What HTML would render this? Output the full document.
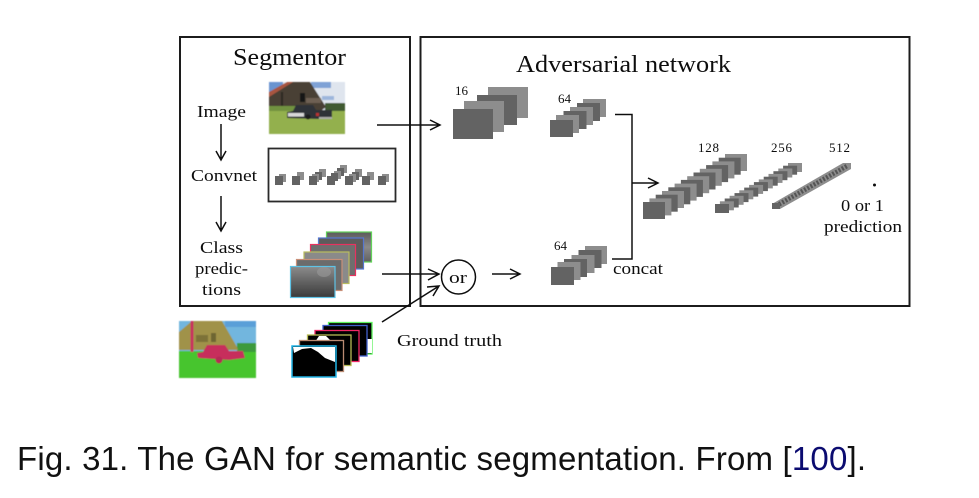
<!DOCTYPE html>
<html><head><meta charset="utf-8"><style>
html,body{margin:0;padding:0;background:#fff;width:979px;height:498px;overflow:hidden}
svg{display:block}
.s{font-family:"Liberation Serif",serif;fill:#111;font-size:17px}
.n{font-family:"Liberation Serif",serif;fill:#111;font-size:13px}
.h{font-family:"Liberation Serif",serif;fill:#111;font-size:24px}
.c{font-family:"Liberation Sans",sans-serif;fill:#111;font-size:33px}
.d{fill:#636363}.l{fill:#8d8d8d}
</style></head><body>
<svg width="979" height="498" viewBox="0 0 979 498" xmlns="http://www.w3.org/2000/svg">
<defs>
<filter id="b" x="-5%" y="-5%" width="110%" height="110%"><feGaussianBlur stdDeviation="0.35"/></filter>
<filter id="p" x="-5%" y="-5%" width="110%" height="110%"><feGaussianBlur stdDeviation="0.6"/></filter>
<linearGradient id="g2" x1="0" y1="0" x2="0" y2="1"><stop offset="0" stop-color="#8c8c8c"/><stop offset=".45" stop-color="#666"/><stop offset="1" stop-color="#3a3a3a"/></linearGradient>
<linearGradient id="g3" x1="0" y1="0" x2="0" y2="1"><stop offset="0" stop-color="#5a5a5a"/><stop offset=".5" stop-color="#8a8a8a"/><stop offset="1" stop-color="#606060"/></linearGradient>
</defs>
<rect width="979" height="498" fill="#fff"/>
<g filter="url(#b)">
<!-- boxes -->
<rect x="180" y="37" width="230" height="269" fill="none" stroke="#1c1c1c" stroke-width="2"/>
<rect x="420.500" y="37" width="489" height="269" fill="none" stroke="#1c1c1c" stroke-width="2"/>
<rect x="268.500" y="148.500" width="127" height="53" fill="none" stroke="#2a2a2a" stroke-width="1.800"/>

<!-- convnet cubes -->
<g>
<rect class="l" x="279" y="174" width="7" height="8"/><rect class="d" x="275" y="176" width="8" height="9"/>
<rect class="l" x="297" y="172" width="7" height="8"/><rect class="d" x="292" y="176" width="8" height="9"/>
<rect class="l" x="319" y="169" width="7" height="8"/><rect class="d" x="315" y="172" width="7" height="8"/><rect class="l" x="312" y="174" width="7" height="8"/><rect class="d" x="309" y="176" width="8" height="9"/>
<rect class="l" x="340" y="165" width="7" height="8"/><rect class="d" x="337" y="168" width="7" height="8"/><rect class="l" x="334" y="171" width="7" height="8"/><rect class="d" x="331" y="173" width="7" height="8"/><rect class="d" x="327" y="176" width="8" height="9"/>
<rect class="l" x="355" y="169" width="7" height="8"/><rect class="d" x="352" y="172" width="7" height="8"/><rect class="l" x="349" y="174" width="7" height="8"/><rect class="d" x="345" y="176" width="8" height="9"/>
<rect class="l" x="367" y="172" width="7" height="8"/><rect class="d" x="362" y="176" width="8" height="9"/>
<rect class="l" x="382" y="174" width="7" height="8"/><rect class="d" x="378" y="176" width="8" height="9"/>
</g>

<!-- stack 16 -->
<rect class="l" x="488" y="87" width="40" height="31"/>
<rect class="d" x="477" y="95" width="40" height="30"/>
<rect class="l" x="464" y="101" width="40" height="31"/>
<rect class="d" x="453" y="109" width="40" height="30"/>

<!-- stack 64 top -->
<rect class="l" x="583" y="99" width="23" height="18"/>
<rect class="d" x="577" y="103" width="23" height="18"/>
<rect class="l" x="570" y="107" width="23" height="18"/>
<rect class="d" x="563.500" y="111" width="23" height="18"/>
<rect class="l" x="556" y="115" width="23" height="18"/>
<rect class="d" x="550" y="120" width="23" height="17"/>

<!-- stack 64 bottom -->
<rect class="l" x="585" y="246" width="22" height="18"/>
<rect class="d" x="578.500" y="250" width="23" height="18"/>
<rect class="l" x="571.500" y="255" width="23" height="18"/>
<rect class="d" x="564" y="259" width="23" height="18"/>
<rect class="l" x="557.500" y="262" width="23" height="18"/>
<rect class="d" x="551" y="267" width="23" height="18"/>

<!-- stack 128 -->
<g>
<rect class="l" x="725" y="154" width="22" height="17"/>
<rect class="d" x="718.700" y="157.700" width="22" height="17"/>
<rect class="l" x="712.400" y="161.400" width="22" height="17"/>
<rect class="d" x="706.100" y="165.100" width="22" height="17"/>
<rect class="l" x="699.800" y="168.800" width="22" height="17"/>
<rect class="d" x="693.500" y="172.500" width="22" height="17"/>
<rect class="l" x="687.200" y="176.200" width="22" height="17"/>
<rect class="d" x="680.900" y="179.900" width="22" height="17"/>
<rect class="l" x="674.600" y="183.600" width="22" height="17"/>
<rect class="d" x="668.300" y="187.300" width="22" height="17"/>
<rect class="l" x="662" y="191" width="22" height="17"/>
<rect class="d" x="655.700" y="194.700" width="22" height="17"/>
<rect class="l" x="649.400" y="198.400" width="22" height="17"/>
<rect class="d" x="643" y="202" width="22" height="17"/>
</g>

<!-- stack 256 -->
<g>
<rect class="l" x="788" y="163" width="14" height="9"/>
<rect class="d" x="783.100" y="165.700" width="14" height="9"/>
<rect class="l" x="778.300" y="168.500" width="14" height="9"/>
<rect class="d" x="773.400" y="171.200" width="14" height="9"/>
<rect class="l" x="768.500" y="173.900" width="14" height="9"/>
<rect class="d" x="763.700" y="176.700" width="14" height="9"/>
<rect class="l" x="758.800" y="179.400" width="14" height="9"/>
<rect class="d" x="753.900" y="182.100" width="14" height="9"/>
<rect class="l" x="749.100" y="184.900" width="14" height="9"/>
<rect class="d" x="744.200" y="187.600" width="14" height="9"/>
<rect class="l" x="739.300" y="190.300" width="14" height="9"/>
<rect class="d" x="734.500" y="193.100" width="14" height="9"/>
<rect class="l" x="729.600" y="195.800" width="14" height="9"/>
<rect class="d" x="724.700" y="198.500" width="14" height="9"/>
<rect class="l" x="719.900" y="201.300" width="14" height="9"/>
<rect class="d" x="715" y="204" width="14" height="9"/>
</g>

<!-- stack 512 -->
<polygon class="l" points="772,204 843,163 851,163 851,169 780,209 772,209"/>
<line x1="776" y1="206" x2="847" y2="166" stroke="#555" stroke-width="4.500" stroke-dasharray="2 1.600"/>
<rect class="d" x="772" y="203" width="8" height="6"/>
<circle cx="874.500" cy="185" r="1.500" fill="#111"/>

<!-- class predictions -->
<rect x="326.500" y="232" width="45" height="30" fill="url(#g3)" stroke="#62d35a" stroke-width="1.200"/>
<rect x="318.500" y="238" width="45" height="31" fill="#5c5c5c" stroke="#5577d0" stroke-width="1.200"/>
<rect x="310.500" y="244.500" width="45" height="31" fill="#6e6e6e" stroke="#e8305f" stroke-width="1.200"/>
<rect x="304" y="252" width="45" height="31.500" fill="#8a8a8a" stroke="#b9bd5f" stroke-width="1.200"/>
<rect x="296.500" y="259.500" width="45.500" height="31" fill="#6c6c6c" stroke="#c88f78" stroke-width="1.200"/>
<rect x="290.500" y="266.500" width="44.500" height="31" fill="url(#g2)" stroke="#5fc3e6" stroke-width="1.200"/>
<ellipse cx="324" cy="272" rx="7" ry="5" fill="#999" opacity=".6"/>

<!-- ground truth -->
<rect x="328.500" y="322.500" width="43.500" height="31.500" fill="#000" stroke="#5cf05c" stroke-width="1.300"/>
<rect x="367" y="339" width="5" height="14" fill="#fff"/>
<rect x="323" y="325.500" width="44" height="30.500" fill="#000" stroke="#3f5fcb" stroke-width="1.300"/>
<rect x="315" y="330.500" width="44" height="31" fill="#000" stroke="#f02565" stroke-width="1.300"/>
<rect x="307.500" y="335" width="43.500" height="30.500" fill="#000" stroke="#b6ba55" stroke-width="1.300"/>
<polygon points="319,336 326,336 332,342 315,342" fill="#fff"/>
<rect x="299.500" y="340.500" width="44" height="31" fill="#000" stroke="#b98a72" stroke-width="1.300"/>
<rect x="292" y="346" width="44" height="31" fill="#000" stroke="#20b4e6" stroke-width="1.500"/>
<polygon points="293,347 335,347 335,362 325,358 318,352 311,348 302,349 294,353" fill="#fff"/>

<!-- connectors -->
<g fill="none" stroke="#111" stroke-width="1.500">
<path d="M221 124V159M216 151L221 160L226 151"/>
<path d="M221 196V231M216 222L221 231L226 222"/>
<path d="M377 125H440M430 120L440 125L430 130"/>
<path d="M382 274H439M428 269L439 274L428 280"/>
<path d="M382 322L439 286M427 287L439 286L433 296"/>
<path d="M492 274H520M510 269L520 274L510 279"/>
<path d="M615 114.500H632V259H612"/>
<path d="M632 183H658M648 178L658 183L648 188"/>
<circle cx="458.500" cy="277" r="17"/>
</g>

<!-- text -->
<text class="h" x="233" y="65" textLength="113" lengthAdjust="spacingAndGlyphs">Segmentor</text>
<text class="h" x="516" y="72" textLength="215" lengthAdjust="spacingAndGlyphs">Adversarial network</text>
<text class="s" x="197" y="117" textLength="49" lengthAdjust="spacingAndGlyphs">Image</text>
<text class="s" x="191" y="181" textLength="66" lengthAdjust="spacingAndGlyphs">Convnet</text>
<text class="s" x="200" y="253" textLength="43" lengthAdjust="spacingAndGlyphs">Class</text>
<text class="s" x="195" y="274" textLength="53" lengthAdjust="spacingAndGlyphs">predic-</text>
<text class="s" x="202" y="295" textLength="39" lengthAdjust="spacingAndGlyphs">tions</text>
<text class="s" x="449" y="283" textLength="18" lengthAdjust="spacingAndGlyphs">or</text>
<text class="s" x="397" y="346" textLength="105" lengthAdjust="spacingAndGlyphs">Ground truth</text>
<text class="s" x="613" y="274" textLength="50" lengthAdjust="spacingAndGlyphs">concat</text>
<text class="s" x="841" y="211" textLength="43" lengthAdjust="spacingAndGlyphs">0 or 1</text>
<text class="s" x="824" y="232" textLength="78" lengthAdjust="spacingAndGlyphs">prediction</text>
<text class="n" x="455" y="95" textLength="13">16</text>
<text class="n" x="558" y="103" textLength="13">64</text>
<text class="n" x="554" y="250" textLength="13">64</text>
<text class="n" x="698" y="152" textLength="21">128</text>
<text class="n" x="771" y="152" textLength="21">256</text>
<text class="n" x="829" y="152" textLength="21">512</text>
</g>

<!-- source photo -->
<g filter="url(#p)">
<svg x="269" y="82" width="76" height="52" viewBox="269 82 76 52">
<rect x="269" y="82" width="76" height="52" fill="#93ad50"/>
<rect x="269" y="82" width="76" height="28" fill="#dfe5ee"/>
<rect x="269" y="82" width="14" height="10" fill="#6a94d0"/>
<rect x="311" y="82" width="20" height="6" fill="#7fa2d6"/>
<rect x="322" y="96" width="12" height="4" fill="#9db6dc"/>
<rect x="325" y="103" width="20" height="8" fill="#3f5a30"/>
<polygon points="269,93 288,82 310,82 326,107 322,110 269,110" fill="#4a4036"/>
<polygon points="269,92 287,82 293,82 269,97" fill="#a8553f"/>
<rect x="281" y="92" width="2" height="16" fill="#2c2620"/>
<rect x="300" y="93" width="5" height="9" fill="#161412"/>
<rect x="306" y="98" width="15" height="5" fill="#6e6152"/>
<rect x="269" y="106" width="30" height="6" fill="#71923f"/>
<rect x="269" y="111" width="76" height="23" fill="#93b04e"/>
<polygon points="287,112 293,111 296,105 313,105 316,110 332,110 332,117 319,119 287,118" fill="#2e3138"/>
<rect x="288" y="113" width="16" height="3.500" fill="#d8d8d8"/>
<rect x="316" y="113" width="3" height="3" fill="#b83030"/>
<circle cx="308" cy="117" r="2.500" fill="#1a1a1a"/>
<rect x="319" y="117" width="13" height="2" fill="#aaa"/>
</svg>
</g>

<!-- segmentation colour map -->
<g filter="url(#p)">
<svg x="179" y="321" width="77" height="57" viewBox="179 321 77 57">
<rect x="179" y="321" width="77" height="57" fill="#47c52d"/>
<rect x="179" y="321" width="77" height="30" fill="#72b6de"/>
<rect x="225" y="321" width="31" height="6" fill="#5a9fd8"/>
<rect x="237" y="343" width="19" height="9" fill="#3c9a3c"/>
<polygon points="179,332 192,321 222,321 237,347 238,350 179,350" fill="#a0924a"/>
<rect x="196" y="335" width="12" height="7" fill="#7d7238"/>
<rect x="211" y="333" width="5" height="9" fill="#6e6633"/>
<rect x="190.500" y="321" width="3" height="31" fill="#c8305f"/>
<polygon points="197,353 203,352 207,345 225,345 229,351 243,351 245,358 229,360 198,358" fill="#c72f5c"/>
<circle cx="219" cy="360" r="3.500" fill="#b52a55"/>
</svg>
</g>

<!-- caption -->
<text class="c" x="17" y="470" textLength="849" lengthAdjust="spacing">Fig. 31. The GAN for semantic segmentation. From [<tspan fill="#0b0b70">100</tspan>].</text>
</svg>
</body></html>
